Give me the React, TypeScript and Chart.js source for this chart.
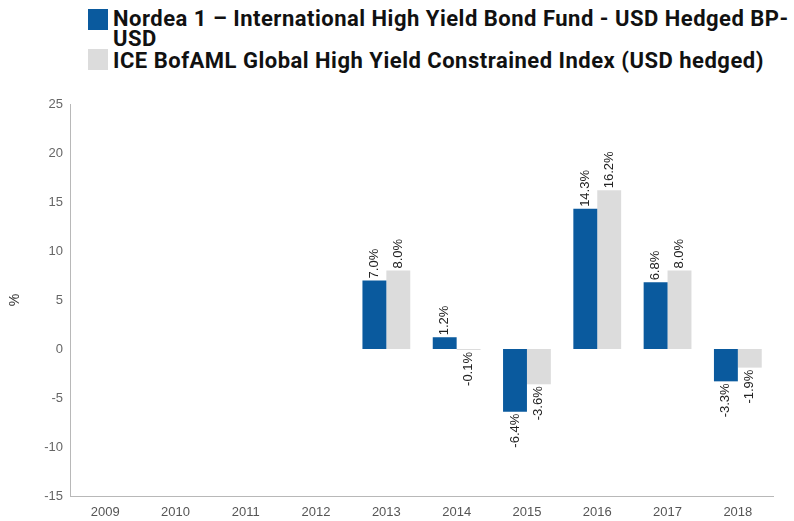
import React, { useEffect, useRef } from "react";
import { Chart, registerables } from "chart.js";

Chart.register(...registerables);

const categories = ["2009", "2010", "2011", "2012", "2013", "2014", "2015", "2016", "2017", "2018"];
const fundLabel = "Nordea 1 – International High Yield Bond Fund - USD Hedged BP-USD";
const indexLabel = "ICE BofAML Global High Yield Constrained Index (USD hedged)";
const fundValues: (number | null)[] = [null, null, null, null, 7.0, 1.2, -6.4, 14.3, 6.8, -3.3];
const indexValues: (number | null)[] = [null, null, null, null, 8.0, -0.1, -3.6, 16.2, 8.0, -1.9];
const yMin = -15;
const yMax = 25;
const yStep = 5;

const BLUE = "#0a5a9e";
const GREY = "#dcdcdc";

const valueLabels = {
  id: "valueLabels",
  afterDatasetsDraw(chart: any) {
    const ctx = chart.ctx;
    ctx.save();
    ctx.font = "13px 'Liberation Sans', Arial, sans-serif";
    ctx.fillStyle = "#222";
    ctx.textBaseline = "middle";
    chart.data.datasets.forEach((ds: any, di: number) => {
      const meta = chart.getDatasetMeta(di);
      meta.data.forEach((el: any, i: number) => {
        const v = ds.data[i];
        if (v === null || v === undefined) return;
        const txt = v.toFixed(1) + "%";
        ctx.save();
        ctx.translate(el.x, el.y);
        ctx.rotate(-Math.PI / 2);
        if (v >= 0) {
          ctx.textAlign = "left";
          ctx.fillText(txt, 2, 0);
        } else {
          ctx.textAlign = "right";
          ctx.fillText(txt, -2, 0);
        }
        ctx.restore();
      });
    });
    ctx.restore();
  },
};

export default function App() {
  const canvasRef = useRef<HTMLCanvasElement | null>(null);

  useEffect(() => {
    document.body.style.margin = "0";
    document.body.style.overflow = "hidden";
    const canvas = canvasRef.current;
    if (!canvas) return;
    const chart = new Chart(canvas, {
      type: "bar",
      data: {
        labels: categories,
        datasets: [
          {
            label: fundLabel,
            data: fundValues,
            backgroundColor: BLUE,
            borderWidth: 0,
            barPercentage: 1,
            categoryPercentage: 0.68,
          },
          {
            label: indexLabel,
            data: indexValues,
            backgroundColor: GREY,
            borderWidth: 0,
            barPercentage: 1,
            categoryPercentage: 0.68,
          },
        ],
      },
      options: {
        animation: false,
        responsive: false,
        maintainAspectRatio: false,
        layout: { padding: { left: 0, right: 21, top: 24, bottom: 0 } },
        plugins: {
          legend: { display: false },
          tooltip: { enabled: false },
        },
        scales: {
          x: {
            grid: { display: false, drawTicks: false },
            border: { display: true, color: "#b8b8b8", width: 1 },
            ticks: {
              color: "#555",
              font: { family: "'Liberation Sans', Arial, sans-serif", size: 13 },
              padding: 9,
              maxRotation: 0,
            },
            afterFit(scale: any) {
              scale.height = 25;
            },
          },
          y: {
            min: yMin,
            max: yMax,
            grid: { display: false, drawTicks: false },
            border: { display: true, color: "#b8b8b8", width: 1 },
            ticks: {
              stepSize: yStep,
              color: "#666",
              font: { family: "'Liberation Sans', Arial, sans-serif", size: 13 },
              padding: 7,
            },
            title: {
              display: true,
              text: "%",
              color: "#333",
              font: { family: "'Liberation Sans', Arial, sans-serif", size: 14 },
              padding: { top: 7, bottom: 0 },
            },
            afterFit(scale: any) {
              scale.width = 70;
            },
          },
        },
      },
      plugins: [valueLabels],
    });
    return () => chart.destroy();
  }, []);

  const legendText: React.CSSProperties = {
    fontFamily: "Roboto, 'Liberation Sans', sans-serif",
    fontWeight: 700,
    fontSize: 22,
    lineHeight: "20px",
    color: "#111",
    whiteSpace: "nowrap",
    letterSpacing: "0.5px",
  };

  return (
    <div style={{ position: "relative", width: 794, height: 521, overflow: "hidden", background: "#fff" }}>
      <div style={{ position: "absolute", left: 88, top: 9, width: 20, height: 21, background: BLUE }} />
      <div style={{ position: "absolute", left: 113, top: 9, ...legendText }}>
        Nordea 1 – International High Yield Bond Fund - USD Hedged BP-
        <br />
        USD
      </div>
      <div style={{ position: "absolute", left: 88, top: 49, width: 20, height: 21, background: GREY }} />
      <div style={{ position: "absolute", left: 113, top: 51, ...legendText }}>{indexLabel}</div>
      <canvas
        ref={canvasRef}
        width={794}
        height={441}
        style={{ position: "absolute", left: 0, top: 80, width: 794, height: 441 }}
      />
    </div>
  );
}
